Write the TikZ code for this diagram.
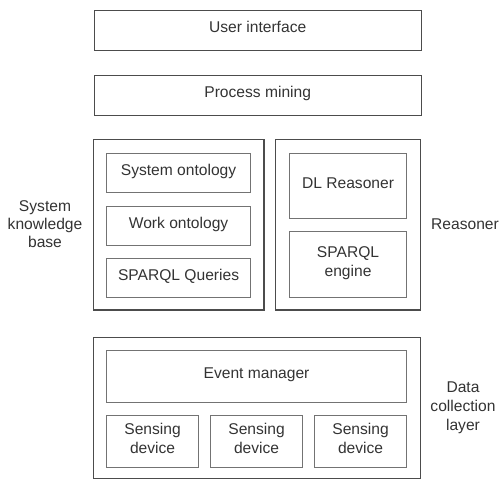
\documentclass[tikz,border=0pt]{standalone}
\usepackage{fontspec}
\setmainfont{Liberation Sans}
\begin{document}
\begin{tikzpicture}[x=1pt,y=-1pt,
  outerbox/.style={draw=black!70,line width=1.4pt},
  innerbox/.style={draw=black!55,line width=1.1pt},
  lbl/.style={font=\fontsize{15.6}{19}\selectfont,text=black!80,align=center,inner sep=0pt},
  boxtext/.style={lbl,text depth=6pt,anchor=north west}]
\useasboundingbox (0,0) rectangle (500,480);
% top layers
\node[outerbox,minimum width=327pt,minimum height=40pt,boxtext] (ui) at (93.5,9.5) {User interface};
\node[outerbox,minimum width=327pt,minimum height=40pt,boxtext] (pm) at (93.5,74.5) {Process mining};
% knowledge base
\draw[outerbox] (93.5,139.5) rectangle (264,310);
\node[innerbox,minimum width=144pt,minimum height=39pt,boxtext] (so) at (106,153) {System ontology};
\node[innerbox,minimum width=144pt,minimum height=39pt,boxtext] (wo) at (106,205.5) {Work ontology};
\node[innerbox,minimum width=144pt,minimum height=39pt,boxtext] (sq) at (106,257.5) {SPARQL Queries};
\node[lbl,font=\fontsize{15.6}{18}\selectfont] (skb) at (45,224) {System\\knowledge\\base};
% reasoner
\draw[outerbox] (275.5,139.5) rectangle (420.5,310);
\node[innerbox,minimum width=117pt,minimum height=65pt,boxtext] (dl) at (289,153) {DL Reasoner};
\node[innerbox,minimum width=117pt,minimum height=66pt,boxtext] (se) at (289,231) {SPARQL\\engine};
\node[lbl] (rs) at (465,224) {Reasoner};
% data collection
\draw[outerbox] (93.5,337.5) rectangle (420.5,478.5);
\node[innerbox,minimum width=300pt,minimum height=52pt,boxtext] (em) at (106,350) {Event manager};
\node[innerbox,minimum width=92pt,minimum height=52pt,boxtext] (sd1) at (106,415) {Sensing\\device};
\node[innerbox,minimum width=92pt,minimum height=52pt,boxtext] (sd2) at (210,415) {Sensing\\device};
\node[innerbox,minimum width=92pt,minimum height=52pt,boxtext] (sd3) at (314,415) {Sensing\\device};
\node[lbl] (dc) at (463,408) {Data\\collection\\layer};
\end{tikzpicture}
\end{document}
